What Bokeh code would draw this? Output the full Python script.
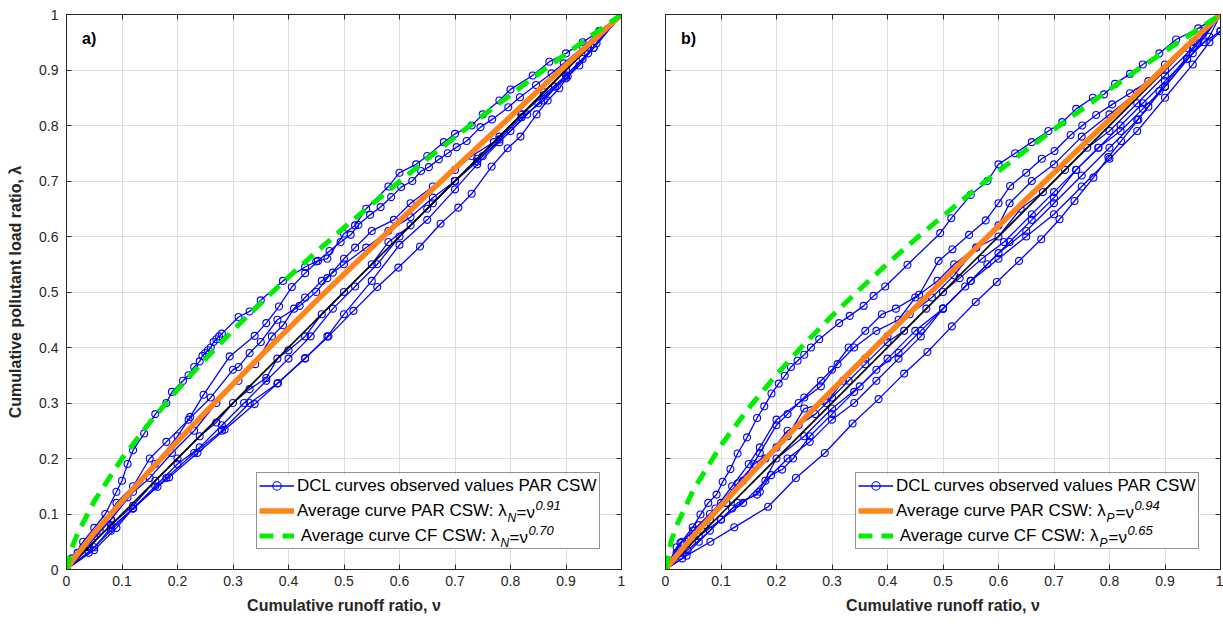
from bokeh.plotting import figure
from bokeh.models import (Range1d, FixedTicker, NumeralTickFormatter, LinearAxis,
                          Legend, LegendItem, Label, BoxAnnotation)
from bokeh.layouts import row
from bokeh.embed import file_html
from bokeh.resources import INLINE

# ---------------- data ----------------
ticks = [0, 0.1, 0.2, 0.3, 0.4, 0.5, 0.6, 0.7, 0.8, 0.9, 1]

nu_avg = [0, 0.01, 0.02, 0.05, 0.1, 0.15, 0.2, 0.25, 0.3, 0.35, 0.4, 0.45, 0.5,
          0.55, 0.6, 0.65, 0.7, 0.75, 0.8, 0.85, 0.9, 0.95, 1]
# lambda_N = nu^0.91 (PAR) and nu^0.70 (CF) read at nu_avg
a_par = [0, 0.015, 0.028, 0.066, 0.123, 0.178, 0.231, 0.283, 0.334, 0.385, 0.434, 0.484,
         0.532, 0.580, 0.628, 0.676, 0.723, 0.770, 0.816, 0.863, 0.909, 0.954, 1]
a_cf = [0, 0.040, 0.065, 0.123, 0.200, 0.265, 0.324, 0.379, 0.431, 0.480, 0.527, 0.572,
        0.616, 0.658, 0.699, 0.740, 0.779, 0.818, 0.855, 0.893, 0.929, 0.965, 1]
# lambda_P = nu^0.94 (PAR) and nu^0.65 (CF)
b_par = [0, 0.013, 0.025, 0.060, 0.115, 0.168, 0.220, 0.272, 0.323, 0.373, 0.423, 0.472,
         0.521, 0.570, 0.619, 0.667, 0.715, 0.763, 0.811, 0.858, 0.906, 0.953, 1]
b_cf = [0, 0.050, 0.079, 0.143, 0.224, 0.291, 0.351, 0.406, 0.457, 0.505, 0.551, 0.595,
        0.637, 0.678, 0.718, 0.756, 0.793, 0.829, 0.865, 0.900, 0.934, 0.967, 1]

diag = [0, 1]

# observed DCL curves, panel a)
a_x1 = [0, 0.01, 0.03, 0.05, 0.07, 0.09, 0.1, 0.11, 0.12, 0.14, 0.16, 0.18, 0.19, 0.21, 0.22,
        0.23, 0.24, 0.245, 0.25, 0.255, 0.26, 0.265, 0.27, 0.275, 0.28, 0.31, 0.33, 0.35, 0.39,
        0.43, 0.45, 0.47, 0.5, 0.52, 0.54, 0.58, 0.6, 0.63, 0.65, 0.68, 0.7, 0.73, 0.75, 0.78,
        0.8, 0.84, 0.87, 0.9, 0.93, 0.96, 1]
a_y1 = [0, 0.02, 0.05, 0.075, 0.1, 0.14, 0.16, 0.19, 0.215, 0.245, 0.28, 0.3, 0.32, 0.34, 0.35,
        0.365, 0.375, 0.385, 0.39, 0.395, 0.4, 0.41, 0.415, 0.42, 0.425, 0.455, 0.465, 0.485, 0.52,
        0.545, 0.555, 0.56, 0.605, 0.62, 0.65, 0.69, 0.715, 0.73, 0.745, 0.77, 0.785, 0.8, 0.82,
        0.845, 0.865, 0.89, 0.915, 0.93, 0.95, 0.97, 1]
a_x2 = [0, 0.02, 0.05, 0.08, 0.12, 0.16, 0.2, 0.223, 0.247, 0.294, 0.339, 0.36, 0.383, 0.406,
        0.43, 0.453, 0.474, 0.494, 0.512, 0.526, 0.547, 0.566, 0.585, 0.603, 0.623, 0.639, 0.653,
        0.671, 0.687, 0.703, 0.721, 0.746, 0.767, 0.796, 0.817, 0.846, 0.874, 0.896, 0.931, 0.96, 1]
a_y2 = [0, 0.03, 0.06, 0.09, 0.14, 0.19, 0.24, 0.275, 0.315, 0.384, 0.421, 0.444, 0.474, 0.509,
        0.534, 0.556, 0.574, 0.59, 0.603, 0.621, 0.639, 0.653, 0.671, 0.689, 0.7, 0.718, 0.725,
        0.739, 0.75, 0.761, 0.772, 0.797, 0.811, 0.833, 0.851, 0.873, 0.894, 0.912, 0.941, 0.97, 1]
a_x3 = [0, 0.03, 0.06, 0.09, 0.12, 0.15, 0.18, 0.22, 0.26, 0.3, 0.31, 0.33, 0.35, 0.38, 0.42,
        0.45, 0.47, 0.5, 0.52, 0.55, 0.59, 0.62, 0.66, 0.7, 0.73, 0.77, 0.82, 0.86, 0.9, 0.94, 1]
a_y3 = [0, 0.04, 0.07, 0.12, 0.15, 0.2, 0.23, 0.27, 0.31, 0.36, 0.365, 0.39, 0.41, 0.45, 0.475,
        0.5, 0.525, 0.56, 0.58, 0.61, 0.63, 0.66, 0.69, 0.72, 0.745, 0.77, 0.82, 0.86, 0.9, 0.94, 1]
a_x4 = [0, 0.04, 0.08, 0.11, 0.15, 0.19, 0.23, 0.27, 0.31, 0.34, 0.37, 0.39, 0.41, 0.43, 0.46,
        0.48, 0.5, 0.54, 0.58, 0.62, 0.66, 0.7, 0.74, 0.78, 0.82, 0.86, 0.9, 0.94, 1]
a_y4 = [0, 0.045, 0.09, 0.13, 0.165, 0.21, 0.25, 0.3, 0.34, 0.37, 0.42, 0.44, 0.47, 0.49, 0.52,
        0.535, 0.55, 0.58, 0.61, 0.635, 0.67, 0.7, 0.74, 0.78, 0.82, 0.855, 0.89, 0.93, 1]
a_x5 = [0, 0.04, 0.08, 0.12, 0.16, 0.2, 0.24, 0.27, 0.3, 0.33, 0.36, 0.38, 0.4, 0.43, 0.46,
        0.5, 0.55, 0.58, 0.62, 0.66, 0.7, 0.75, 0.8, 0.85, 0.9, 0.95, 1]
a_y5 = [0, 0.04, 0.08, 0.115, 0.16, 0.2, 0.24, 0.265, 0.3, 0.325, 0.345, 0.38, 0.395, 0.42, 0.46,
        0.5, 0.55, 0.59, 0.62, 0.66, 0.7, 0.745, 0.79, 0.84, 0.885, 0.94, 1]
a_x6 = [0, 0.04, 0.08, 0.12, 0.16, 0.2, 0.24, 0.28, 0.32, 0.36, 0.4, 0.44, 0.48, 0.52, 0.56,
        0.6, 0.65, 0.7, 0.74, 0.78, 0.82, 0.86, 0.9, 0.95, 1]
a_y6 = [0, 0.03, 0.07, 0.11, 0.15, 0.19, 0.22, 0.26, 0.3, 0.34, 0.38, 0.42, 0.47, 0.51, 0.55,
        0.6, 0.65, 0.7, 0.735, 0.775, 0.815, 0.845, 0.89, 0.94, 1]
a_x7 = [0, 0.05, 0.08, 0.12, 0.18, 0.23, 0.28, 0.33, 0.38, 0.43, 0.47, 0.5, 0.55, 0.6, 0.65,
        0.7, 0.74, 0.78, 0.83, 0.88, 0.93, 1]
a_y7 = [0, 0.04, 0.075, 0.11, 0.165, 0.21, 0.25, 0.3, 0.335, 0.38, 0.42, 0.46, 0.52, 0.585, 0.63,
        0.685, 0.73, 0.77, 0.82, 0.87, 0.92, 1]
a_x8 = [0, 0.05, 0.09, 0.12, 0.164, 0.185, 0.236, 0.285, 0.339, 0.381, 0.43, 0.472, 0.517, 0.56,
        0.598, 0.637, 0.674, 0.706, 0.73, 0.766, 0.795, 0.818, 0.847, 0.867, 0.888, 0.903, 0.924,
        0.955, 1]
a_y8 = [0, 0.035, 0.075, 0.11, 0.149, 0.166, 0.21, 0.252, 0.298, 0.336, 0.381, 0.42, 0.466, 0.509,
        0.544, 0.582, 0.623, 0.652, 0.677, 0.726, 0.759, 0.78, 0.82, 0.845, 0.867, 0.888, 0.908,
        0.948, 1]

# observed DCL curves, panel b)
b_x1 = [0, 0.027, 0.049, 0.063, 0.077, 0.092, 0.103, 0.117, 0.13, 0.147, 0.165, 0.178, 0.191,
        0.204, 0.215, 0.226, 0.238, 0.25, 0.262, 0.277, 0.313, 0.332, 0.357, 0.375, 0.396, 0.436,
        0.495, 0.515, 0.55, 0.58, 0.6, 0.63, 0.66, 0.69, 0.715, 0.74, 0.77, 0.79, 0.81, 0.837,
        0.86, 0.89, 0.92, 0.96, 1]
b_y1 = [0, 0.048, 0.076, 0.099, 0.12, 0.135, 0.158, 0.181, 0.209, 0.238, 0.273, 0.294, 0.317,
        0.335, 0.349, 0.365, 0.376, 0.387, 0.4, 0.415, 0.444, 0.457, 0.475, 0.493, 0.51, 0.549,
        0.606, 0.633, 0.675, 0.7, 0.73, 0.75, 0.77, 0.79, 0.806, 0.83, 0.85, 0.856, 0.875, 0.893,
        0.91, 0.93, 0.955, 0.975, 1]
b_x2 = [0, 0.02, 0.05, 0.08, 0.11, 0.14, 0.17, 0.2, 0.22, 0.25, 0.28, 0.3, 0.33, 0.36, 0.39,
        0.415, 0.457, 0.492, 0.517, 0.547, 0.577, 0.6, 0.621, 0.65, 0.678, 0.701, 0.73, 0.751,
        0.776, 0.805, 0.837, 0.87, 0.9, 0.94, 0.97, 1]
b_y2 = [0, 0.03, 0.06, 0.09, 0.12, 0.16, 0.21, 0.26, 0.28, 0.31, 0.34, 0.36, 0.4, 0.43, 0.46,
        0.47, 0.495, 0.556, 0.577, 0.603, 0.629, 0.66, 0.691, 0.715, 0.74, 0.754, 0.783, 0.8,
        0.819, 0.838, 0.858, 0.88, 0.91, 0.94, 0.97, 1]
b_x3 = [0, 0.03, 0.06, 0.09, 0.12, 0.15, 0.17, 0.2, 0.24, 0.28, 0.31, 0.34, 0.38, 0.42, 0.45,
        0.49, 0.52, 0.56, 0.6, 0.64, 0.68, 0.72, 0.76, 0.8, 0.85, 0.9, 0.95, 1]
b_y3 = [0, 0.05, 0.08, 0.11, 0.15, 0.19, 0.22, 0.27, 0.3, 0.33, 0.37, 0.4, 0.43, 0.45, 0.49,
        0.52, 0.55, 0.58, 0.6, 0.65, 0.68, 0.72, 0.76, 0.79, 0.84, 0.89, 0.94, 1]
b_x4 = [0, 0.02, 0.05, 0.08, 0.11, 0.14, 0.18, 0.22, 0.24, 0.27, 0.3, 0.33, 0.36, 0.4, 0.43,
        0.47, 0.5, 0.53, 0.57, 0.61, 0.66, 0.7, 0.74, 0.78, 0.82, 0.86, 0.9, 0.94, 0.98, 1]
b_y4 = [0, 0.04, 0.07, 0.1, 0.12, 0.16, 0.2, 0.25, 0.26, 0.28, 0.31, 0.34, 0.37, 0.41, 0.43,
        0.47, 0.5, 0.525, 0.56, 0.59, 0.64, 0.68, 0.72, 0.76, 0.79, 0.83, 0.87, 0.92, 0.96, 1]
b_x5 = [0, 0.04, 0.08, 0.12, 0.17, 0.19, 0.21, 0.23, 0.26, 0.3, 0.34, 0.38, 0.42, 0.46, 0.5,
        0.55, 0.6, 0.65, 0.7, 0.75, 0.8, 0.85, 0.9, 0.95, 1]
b_y5 = [0, 0.035, 0.07, 0.11, 0.14, 0.17, 0.18, 0.2, 0.24, 0.28, 0.32, 0.36, 0.39, 0.43, 0.47,
        0.52, 0.57, 0.61, 0.66, 0.71, 0.76, 0.81, 0.87, 0.93, 1]
b_x6 = [0, 0.03, 0.06, 0.1, 0.13, 0.165, 0.2, 0.25, 0.3, 0.35, 0.4, 0.45, 0.5, 0.55, 0.6, 0.65,
        0.7, 0.75, 0.8, 0.85, 0.9, 0.95, 0.98, 1]
b_y6 = [0, 0.03, 0.06, 0.09, 0.12, 0.135, 0.2, 0.24, 0.29, 0.33, 0.38, 0.43, 0.47, 0.52, 0.56,
        0.6, 0.64, 0.69, 0.74, 0.79, 0.85, 0.91, 0.95, 0.97]
b_x7 = [0, 0.04, 0.07, 0.1, 0.13, 0.16, 0.2, 0.22, 0.25, 0.29, 0.32, 0.36, 0.4, 0.44, 0.48,
        0.52, 0.56, 0.6, 0.62, 0.66, 0.7, 0.75, 0.8, 0.85, 0.9, 0.95, 1]
b_y7 = [0, 0.05, 0.08, 0.12, 0.155, 0.19, 0.22, 0.24, 0.29, 0.3, 0.34, 0.38, 0.42, 0.46, 0.49,
        0.53, 0.58, 0.62, 0.66, 0.7, 0.73, 0.78, 0.82, 0.86, 0.9, 0.95, 1]
b_x8 = [0, 0.038, 0.081, 0.124, 0.185, 0.235, 0.287, 0.337, 0.384, 0.43, 0.472, 0.516, 0.559,
        0.597, 0.637, 0.677, 0.71, 0.737, 0.771, 0.798, 0.821, 0.852, 0.87, 0.89, 0.959, 1]
b_y8 = [0, 0.025, 0.05, 0.076, 0.113, 0.165, 0.21, 0.263, 0.307, 0.353, 0.392, 0.438, 0.482,
        0.518, 0.556, 0.595, 0.631, 0.664, 0.706, 0.743, 0.772, 0.811, 0.834, 0.862, 0.948, 1]
b_x9 = [0, 0.03, 0.06, 0.1, 0.14, 0.18, 0.22, 0.26, 0.3, 0.34, 0.38, 0.42, 0.46, 0.5, 0.54,
        0.58, 0.62, 0.66, 0.7, 0.74, 0.78, 0.82, 0.86, 0.9, 0.94, 0.97, 1]
b_y9 = [0, 0.02, 0.05, 0.09, 0.12, 0.16, 0.2, 0.23, 0.27, 0.3, 0.34, 0.38, 0.42, 0.47, 0.51,
        0.55, 0.59, 0.63, 0.67, 0.72, 0.76, 0.8, 0.84, 0.88, 0.92, 0.95, 0.97]

curves_a = [(a_x1, a_y1), (a_x2, a_y2), (a_x3, a_y3), (a_x4, a_y4), (a_x5, a_y5),
            (a_x6, a_y6), (a_x7, a_y7), (a_x8, a_y8)]
curves_b = [(b_x1, b_y1), (b_x2, b_y2), (b_x3, b_y3), (b_x4, b_y4), (b_x5, b_y5),
            (b_x6, b_y6), (b_x7, b_y7), (b_x8, b_y8), (b_x9, b_y9)]

legend_main = ["DCL curves observed values PAR CSW",
               "Average curve PAR CSW: \u03bb",
               " Average curve CF CSW: \u03bb"]
exp_a = ["0.91", "0.70"]
exp_b = ["0.94", "0.65"]

# ---------------- styling ----------------
FONT = "Liberation Sans"
FRAME = 555
DARK = "#262626"
BLUE = "#0000ff"
ORANGE = "#ff8419"
GREEN = "#00ee00"
LEG_L, LEG_B, LEG_W, LEG_H = 190, 20, 344, 75


def style_axis(ax, show_labels, tick_standoff=6, label_standoff=8):
    ax.ticker = FixedTicker(ticks=ticks)
    ax.formatter = NumeralTickFormatter(format="0.[0]")
    ax.major_tick_in = 5
    ax.major_tick_out = 0
    ax.minor_tick_line_color = None
    ax.axis_line_color = DARK
    ax.major_tick_line_color = DARK
    ax.major_label_text_font = FONT
    if show_labels:
        ax.major_label_text_color = DARK
        ax.major_label_text_font_size = "14px"
        ax.major_label_standoff = tick_standoff
    else:
        ax.major_label_text_color = None
        ax.major_label_text_font_size = "0px"
        ax.major_label_standoff = 0
    ax.axis_label_text_font = FONT
    ax.axis_label_text_font_size = "16px"
    ax.axis_label_text_font_style = "bold"
    ax.axis_label_text_color = DARK
    ax.axis_label_standoff = label_standoff


def make_panel(curves, par, cf, exps, sub, tag, show_y, bl, br):
    p = figure(frame_width=FRAME, frame_height=FRAME, output_backend="svg",
               toolbar_location=None, x_range=Range1d(0, 1), y_range=Range1d(0, 1),
               min_border_left=bl, min_border_right=br, min_border_top=14,
               min_border_bottom=50)
    p.outline_line_color = DARK
    style_axis(p.xaxis[0], True, 6, 8)
    style_axis(p.yaxis[0], show_y, 8, 12)
    p.xaxis[0].axis_label = "Cumulative runoff ratio, \u03bd"
    if show_y:
        p.yaxis[0].axis_label = "Cumulative pollutant load ratio, \u03bb"
    top = LinearAxis()
    style_axis(top, False)
    p.add_layout(top, "above")
    right = LinearAxis()
    style_axis(right, False)
    p.add_layout(right, "right")
    for g in (p.xgrid[0], p.ygrid[0]):
        g.ticker = FixedTicker(ticks=ticks)
        g.grid_line_color = "#dddddd"
        g.grid_line_width = 1

    first = None
    for cx, cy in curves:
        ln = p.line(cx, cy, line_color=BLUE, line_width=1.3)
        sc = p.scatter(cx, cy, marker="circle", size=7, line_color=BLUE,
                       line_width=1.1, fill_color=None)
        if first is None:
            first = [ln, sc]
    p.line(diag, diag, line_color="black", line_width=1.6)
    r_par = p.line(nu_avg, par, line_color=ORANGE, line_width=5.5)
    r_cf = p.line(nu_avg, cf, line_color=GREEN, line_width=5, line_dash="14 9")

    # white backing of the legend box (legend itself is transparent so that the
    # sub/superscript labels drawn on top stay visible)
    p.add_layout(BoxAnnotation(left=LEG_L / FRAME, right=(LEG_L + LEG_W) / FRAME,
                               bottom=LEG_B / FRAME, top=(LEG_B + LEG_H) / FRAME,
                               fill_color="white", fill_alpha=1, line_color=None,
                               level="annotation"))

    legend = Legend(items=[LegendItem(label=legend_main[0], renderers=first),
                           LegendItem(label=legend_main[1], renderers=[r_par]),
                           LegendItem(label=legend_main[2], renderers=[r_cf])],
                    location=(LEG_L, LEG_B), padding=2, spacing=4, margin=0,
                    glyph_width=35, glyph_height=21, label_height=21, label_standoff=3,
                    label_text_font=FONT, label_text_font_size="17px",
                    label_text_color="black",
                    border_line_color=DARK, border_line_width=1,
                    background_fill_alpha=0)
    p.add_layout(legend)

    # sub / superscript parts of the legend formulas
    rows = [57.5, 32.5]
    lam_end = [441, 434]
    for i in range(2):
        yc = rows[i]
        xe = lam_end[i]
        p.add_layout(Label(x=xe / FRAME, y=(yc - 6) / FRAME, text=sub, text_font=FONT,
                           text_font_size="12px", text_baseline="middle",
                           text_font_style="italic", text_color="black"))
        p.add_layout(Label(x=(xe + 9) / FRAME, y=yc / FRAME, text="=\u03bd", text_font=FONT,
                           text_font_size="17px", text_baseline="middle",
                           text_color="black"))
        p.add_layout(Label(x=(xe + 28) / FRAME, y=(yc + 7) / FRAME, text=exps[i],
                           text_font=FONT, text_font_size="13px", text_baseline="middle",
                           text_font_style="italic", text_color="black"))

    p.add_layout(Label(x=0.028, y=0.957, text=tag, text_font=FONT, text_font_size="16px",
                       text_font_style="bold", text_baseline="middle", text_color="black"))
    return p


p1 = make_panel(curves_a, a_par, a_cf, exp_a, "N", "a)", True, 66, 18)
p2 = make_panel(curves_b, b_par, b_cf, exp_b, "P", "b)", False, 26, 3)

layout = row(p1, p2)
open("out.html", "w").write(file_html(layout, INLINE))
